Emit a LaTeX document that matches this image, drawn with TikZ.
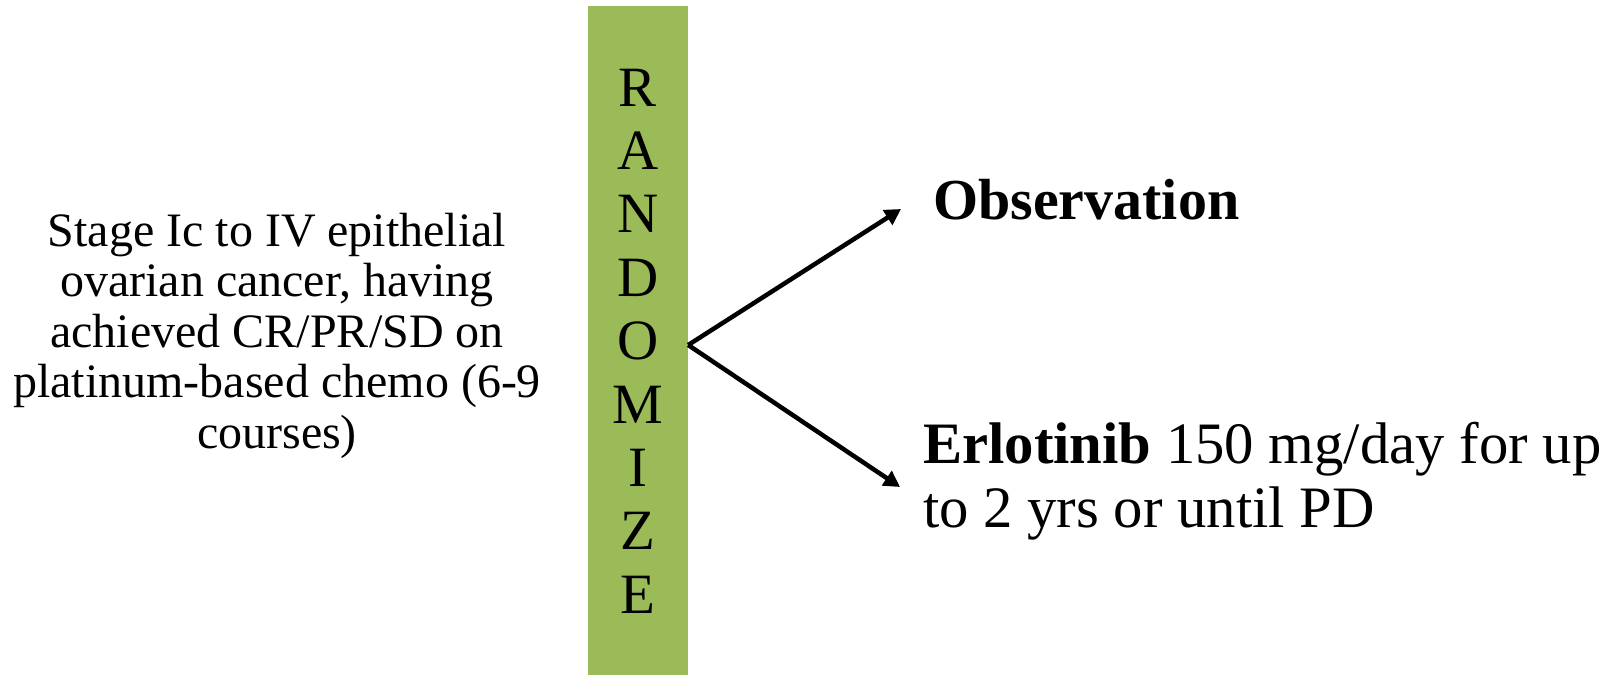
\documentclass[tikz,border=0pt]{standalone}
\usepackage{fontspec}
\setmainfont{Liberation Serif}
\usetikzlibrary{arrows.meta}
\definecolor{barGreen}{HTML}{9BBB59}
\begin{document}
\begin{tikzpicture}[x=1pt,y=-1pt,
  lefttext/.style={anchor=base,inner sep=0pt,font=\fontsize{48}{50}\selectfont},
  armtext/.style={anchor=base west,inner sep=0pt,font=\fontsize{58}{62}\selectfont},
  erltext/.style={anchor=base west,inner sep=0pt,font=\fontsize{58.7}{63}\selectfont},
  letter/.style={anchor=base,inner sep=0pt,font=\fontsize{57}{63}\selectfont},
  branch/.style={line width=4.5pt,-{Triangle[length=16pt,width=17pt]}}]
\useasboundingbox (0,0) rectangle (1614,675);
% randomisation bar
\node[fill=barGreen,draw=none,minimum width=100pt,minimum height=669pt,inner sep=0pt]
  (bar) at (638,340.5) {};
\foreach \ch [count=\i] in {R,A,N,D,O,M,I,Z,E}
  \node[letter] (ltr\i) at (638,{106+63.4*(\i-1)}) {\ch};
% eligibility text
\node[lefttext] (elig1) at (277,246)   {Stage Ic to IV epithelial};
\node[lefttext] (elig2) at (277,296.5) {ovarian cancer, having};
\node[lefttext] (elig3) at (277,347)   {achieved CR/PR/SD on};
\node[lefttext] (elig4) at (277,397.5) {platinum-based chemo (6-9};
\node[lefttext] (elig5) at (277,448)   {courses)};
% treatment arms
\node[armtext] (obs) at (933,219) {\textbf{Observation}};
\node[erltext] (erl1) at (923,463) {\textbf{Erlotinib} 150 mg/day for up};
\node[erltext] (erl2) at (923,527) {to 2 yrs or until PD};
% branching arrows
\coordinate (split) at ([yshift=-4.5pt]bar.east);
\coordinate (obsTip) at (901,209);
\coordinate (erlTip) at (900,487);
\draw[branch] (split) -- (obsTip);
\draw[branch] (split) -- (erlTip);
\end{tikzpicture}
\end{document}
